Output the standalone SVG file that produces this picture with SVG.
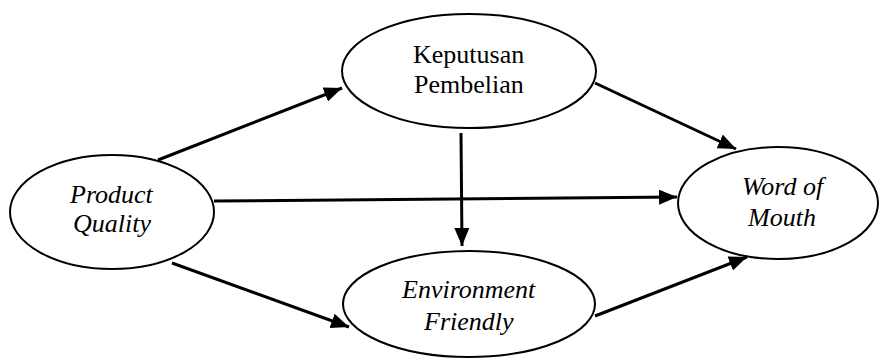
<svg xmlns="http://www.w3.org/2000/svg" width="880" height="358" viewBox="0 0 880 358">
<defs>
<marker id="ah" markerWidth="6" markerHeight="5" refX="6" refY="2.5" orient="auto" markerUnits="strokeWidth">
<path d="M0,0 L6,2.5 L0,5 Z" fill="#000"/>
</marker>
</defs>
<rect width="880" height="358" fill="#fff"/>
<g id="connectors" stroke="#000" stroke-width="3" fill="none" marker-end="url(#ah)">
<line x1="158" y1="160" x2="342" y2="88"/>
<line x1="214" y1="201" x2="677" y2="197"/>
<line x1="172" y1="263" x2="349" y2="327"/>
<line x1="595" y1="83" x2="736" y2="149"/>
<line x1="461" y1="133" x2="462" y2="246"/>
<line x1="595" y1="316" x2="747" y2="257"/>
</g>
<g id="keputusan">
<ellipse cx="469" cy="71" rx="127" ry="57" fill="#fff" stroke="#000" stroke-width="2"/>
<text x="413" y="63" font-family="Liberation Serif" font-size="26">Keputusan</text>
<text x="414" y="93" font-family="Liberation Serif" font-size="26">Pembelian</text>
</g>
<g id="product">
<ellipse cx="112" cy="212" rx="102" ry="57" fill="#fff" stroke="#000" stroke-width="2"/>
<text x="70" y="203" font-family="Liberation Serif" font-style="italic" font-size="26">Product</text>
<text x="73" y="232" font-family="Liberation Serif" font-style="italic" font-size="26">Quality</text>
</g>
<g id="wom">
<ellipse cx="778" cy="203" rx="100" ry="56" fill="#fff" stroke="#000" stroke-width="2"/>
<text x="742" y="195" font-family="Liberation Serif" font-style="italic" font-size="26">Word of</text>
<text x="748" y="226" font-family="Liberation Serif" font-style="italic" font-size="26">Mouth</text>
</g>
<g id="env">
<ellipse cx="469" cy="304" rx="126" ry="53" fill="#fff" stroke="#000" stroke-width="2"/>
<text x="402" y="298" font-family="Liberation Serif" font-style="italic" font-size="26">Environment</text>
<text x="424" y="330" font-family="Liberation Serif" font-style="italic" font-size="26">Friendly</text>
</g>
</svg>
